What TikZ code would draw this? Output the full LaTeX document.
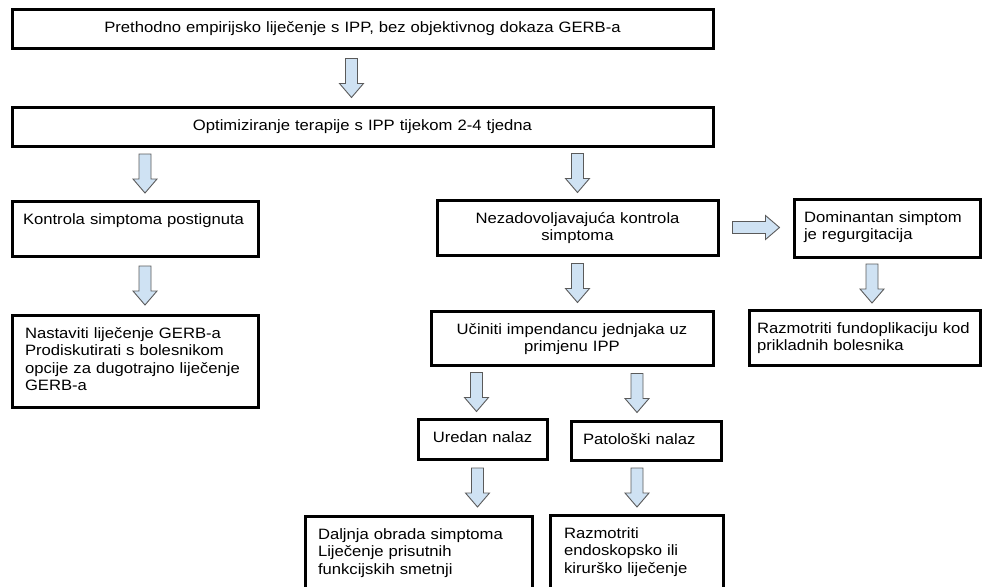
\documentclass[tikz,border=0pt]{standalone}
\usepackage{fontspec}
\setmainfont{Liberation Sans}[FakeStretch=1.11]
\usetikzlibrary{calc}
\definecolor{arrowfill}{RGB}{207,226,243}
\definecolor{arrowline}{RGB}{90,90,90}
\newcommand{\flowfont}{\fontsize{15}{17.5}\selectfont}

\begin{document}
\begin{tikzpicture}[x=1pt, y=1pt,
    box/.style={draw, line width=3pt, outer sep=0pt, inner ysep=0pt, text height=23pt, anchor=north west, font=\flowfont},
    boxc/.style={box, align=center, inner xsep=10pt},
    boxl/.style={box, align=left},
    blockarrow/.style={draw=arrowline, fill=arrowfill, line width=0.9pt,
      to path={
        ($(\tikztostart)!0.5!(\tikztotarget)$) coordinate (ba-m)
        ($(ba-m)!#1!(\tikztostart)$) coordinate (ba-s)
        ($(ba-m)!#1!(\tikztotarget)$) coordinate (ba-t)
        ($(ba-t)!14pt!(ba-s)$) coordinate (ba-h)
        ($(ba-s)!6pt!90:(ba-t)$) -- ($(ba-h)!6pt!90:(ba-t)$)
        -- ($(ba-h)!12pt!90:(ba-t)$) -- (ba-t)
        -- ($(ba-h)!12pt!-90:(ba-t)$) -- ($(ba-h)!6pt!-90:(ba-t)$)
        -- ($(ba-s)!6pt!-90:(ba-t)$) -- cycle}},
    blockarrow/.default=19.5pt]

    % Page size
    \useasboundingbox (0,0) rectangle (984,-586);
    \clip (0,0) rectangle (984,-586);

    % Top boxes
    \node[boxc, text width=681pt, text depth=16pt] (prethodno) at (12,-10) {Prethodno empirijsko liječenje s IPP, bez objektivnog dokaza GERB-a};
    \node[boxc, text width=681pt, text depth=16pt] (optimiz) at (12,-107) {Optimiziranje terapije s IPP tijekom 2-4 tjedna};

    % Left column
    \node[boxl, inner xsep=11pt, text width=224pt, text depth=32pt] (kontrola) at (12,-201) {Kontrola simptoma postignuta};
    \node[boxl, inner xsep=13pt, text width=220pt, text depth=69pt] (nastaviti) at (12,-315) {Nastaviti liječenje GERB-a\\Prodiskutirati s bolesnikom\\opcije za dugotrajno liječenje\\GERB-a};

    % Middle column
    \node[boxc, text width=261pt, text depth=32pt] (nezadov) at (437,-200) {Nezadovoljavajuća kontrola\\simptoma};
    \node[boxc, text width=262pt, text depth=31pt] (ucinit) at (431,-311) {Učiniti impendancu jednjaka uz\\primjenu IPP};
    \node[boxc, text width=109pt, text depth=17pt] (uredan) at (418,-419) {Uredan nalaz};
    \node[boxl, inner xsep=12pt, text width=126pt, text depth=16pt] (patoloski) at (571,-421) {Patološki nalaz};
    \node[boxl, inner xsep=13pt, text width=201pt, text depth=61pt] (daljnja) at (305,-516) {Daljnja obrada simptoma\\Liječenje prisutnih\\funkcijskih smetnji};
    \node[boxl, inner xsep=14pt, text width=145pt, text depth=62pt] (endoskop) at (550,-515) {Razmotriti\\endoskopsko ili\\kirurško liječenje};

    % Right column
    \node[boxl, inner xsep=10pt, text width=166pt, text depth=35pt] (dominantan) at (794,-199) {Dominantan simptom\\je regurgitacija};
    \node[boxl, inner xsep=8pt, text width=215pt, text depth=32pt] (fund) at (749,-310) {Razmotriti fundoplikaciju kod\\prikladnih bolesnika};

    % Block arrows
    \draw[blockarrow] ($(prethodno.south)+(-11,0)$) to ($(optimiz.north)+(-11,0)$);
    \draw[blockarrow] ($(optimiz.south -| kontrola.north)+(10,0)$) to ($(kontrola.north)+(10,0)$);
    \draw[blockarrow] (optimiz.south -| nezadov.north) to (nezadov.north);
    \draw[blockarrow] ($(kontrola.south)+(10,0)$) to ($(nastaviti.north)+(10,0)$);
    \draw[blockarrow] (nezadov.south) to (nezadov.south |- ucinit.north);
    \draw[blockarrow=23.5pt] (nezadov.east) to (nezadov.east -| dominantan.west);
    \draw[blockarrow] ($(dominantan.south)+(-15,0)$) to ($(dominantan.south |- fund.north)+(-15,0)$);
    \draw[blockarrow] ($(ucinit.south -| uredan.north)+(-6,0)$) to ($(uredan.north)+(-6,0)$);
    \draw[blockarrow] ($(ucinit.south -| patoloski.north)+(-9,0)$) to ($(patoloski.north)+(-9,0)$);
    \draw[blockarrow] ($(uredan.south)+(-5,0)$) to ($(uredan.south |- daljnja.north)+(-5,0)$);
    \draw[blockarrow] ($(patoloski.south)+(-9,0)$) to ($(patoloski.south |- endoskop.north)+(-9,0)$);
\end{tikzpicture}
\end{document}
